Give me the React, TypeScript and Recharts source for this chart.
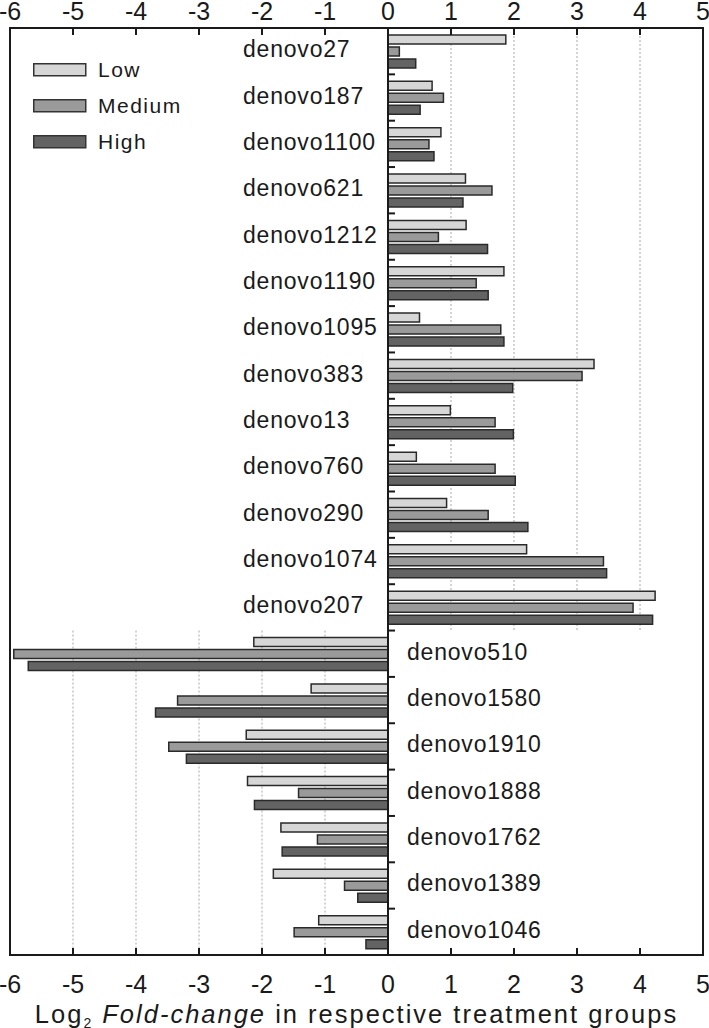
import React from 'react';
import { BarChart, Bar, XAxis, YAxis, ReferenceLine, ReferenceArea, Legend, Label, CartesianGrid } from 'recharts';

const CATEGORIES = [
  'denovo27', 'denovo187', 'denovo1100', 'denovo621', 'denovo1212', 'denovo1190', 'denovo1095',
  'denovo383', 'denovo13', 'denovo760', 'denovo290', 'denovo1074', 'denovo207',
  'denovo510', 'denovo1580', 'denovo1910', 'denovo1888', 'denovo1762', 'denovo1389', 'denovo1046',
];
const LOW = [1.87, 0.70, 0.84, 1.23, 1.24, 1.84, 0.50, 3.27, 0.99, 0.45, 0.93, 2.20, 4.24,
  -2.13, -1.22, -2.25, -2.23, -1.70, -1.82, -1.10];
const MEDIUM = [0.18, 0.88, 0.65, 1.65, 0.80, 1.40, 1.79, 3.08, 1.70, 1.70, 1.59, 3.42, 3.89,
  -5.94, -3.34, -3.48, -1.42, -1.12, -0.69, -1.49];
const HIGH = [0.44, 0.51, 0.73, 1.19, 1.58, 1.59, 1.84, 1.98, 1.99, 2.02, 2.22, 3.47, 4.20,
  -5.71, -3.69, -3.20, -2.12, -1.68, -0.48, -0.35];
const SERIES = ['Low', 'Medium', 'High'];
const COLORS = ['#d6d6d6', '#9a9a9a', '#636363'];
const X_TICKS = [-6, -5, -4, -3, -2, -1, 0, 1, 2, 3, 4, 5];
const UP_GRID = [1, 2, 3, 4];
const DOWN_GRID = [-1, -2, -3, -4, -5];

const data = CATEGORIES.map((name, i) => ({ name, Low: LOW[i], Medium: MEDIUM[i], High: HIGH[i] }));
const N_UP = CATEGORIES.filter((_, i) => LOW[i] > 0 && MEDIUM[i] > 0 && HIGH[i] > 0).length;
const N_ALL = CATEGORIES.length;

const W = 709;
const H = 1028;
const M_LEFT = 9;
const Y_AXIS_W = 1;
const M_RIGHT = 6;
const TOP_AXIS_H = 28;
const BOTTOM_AXIS_H = 73;
const PLOT_LEFT = M_LEFT + Y_AXIS_W;
const PLOT_TOP = TOP_AXIS_H;
const PLOT_W = W - PLOT_LEFT - M_RIGHT;
const PLOT_H = H - TOP_AXIS_H - BOTTOM_AXIS_H;
const BAND = PLOT_H / N_ALL;
const X_MIN = -6;
const X_MAX = 5;
const toPx = (v: number) => PLOT_LEFT + ((v - X_MIN) / (X_MAX - X_MIN)) * PLOT_W;
const ZERO_X = toPx(0);
const UNIT = PLOT_W / (X_MAX - X_MIN);

const FONT = '"Liberation Sans", Arial, Helvetica, sans-serif';
const INK = '#1a1a1a';

const CatTick = (props: any) => {
  const { y, payload } = props;
  const idx = CATEGORIES.indexOf(payload.value);
  const up = idx < N_UP;
  const x = up ? ZERO_X - 145 : ZERO_X + 19;
  return (
    <text x={x} y={y + 6} textAnchor="start" fontSize={23} letterSpacing={0.8} fontFamily={FONT} fill={INK}>
      {payload.value}
    </text>
  );
};

// vertical dotted grid: positive values only beside the up-regulated block, negative beside the down block
const VGridLine = (props: any) => {
  const { x1, y1, y2 } = props;
  const v = Math.round(X_MIN + ((x1 - PLOT_LEFT) / UNIT));
  const split = y1 + ((y2 - y1) * N_UP) / N_ALL;
  let a: number | null = null;
  let b: number | null = null;
  if (UP_GRID.includes(v)) { a = y1; b = split; }
  else if (DOWN_GRID.includes(v)) { a = split; b = y2; }
  if (a === null || b === null) return <g />;
  return <line x1={x1} x2={x1} y1={a} y2={b} stroke="#a8a8a8" strokeWidth={1} strokeDasharray="2 2" />;
};

// short ticks on the zero axis at the boundaries between categories
const HGridLine = (props: any) => {
  const { y1, index } = props;
  if (index >= N_ALL - 1) return <g />;
  const yb = y1 + BAND / 2;
  return <line x1={ZERO_X} x2={ZERO_X + 7} y1={yb} y2={yb} stroke={INK} strokeWidth={2} />;
};

const LegendContent = (props: any) => {
  const raw = props.payload && props.payload.length ? props.payload : SERIES.map((s, i) => ({ value: s, color: COLORS[i] }));
  const items = [...raw].sort((a: any, b: any) => SERIES.indexOf(a.value) - SERIES.indexOf(b.value));
  return (
    <div>
      {items.map((it: any) => (
        <div key={it.value} style={{ display: 'flex', alignItems: 'center', height: 36 }}>
          <svg width={54} height={14} style={{ display: 'block' }}>
            <rect x={0.75} y={0.75} width={52} height={12} fill={COLORS[SERIES.indexOf(it.value)] || it.color} stroke="#333" strokeWidth={1.5} />
          </svg>
          <span style={{ marginLeft: 11, fontFamily: FONT, fontSize: 21, letterSpacing: 1.5, color: INK, lineHeight: '36px' }}>
            {it.value}
          </span>
        </div>
      ))}
    </div>
  );
};

const AxisTitle = (props: any) => {
  const vb = props.viewBox || { x: PLOT_LEFT, y: PLOT_TOP + PLOT_H, width: PLOT_W, height: BOTTOM_AXIS_H };
  const cx = vb.x + vb.width / 2;
  return (
    <text x={cx} y={vb.y + 68} textAnchor="middle" fontSize={25.5} letterSpacing={2} fontFamily={FONT} fill={INK}>
      <tspan>Log</tspan>
      <tspan fontSize={14} dy={5}>2</tspan>
      <tspan dy={-5}> </tspan>
      <tspan fontStyle="italic">Fold-change</tspan>
      <tspan> in respective treatment groups</tspan>
    </text>
  );
};

export default function App() {
  return (
    <div style={{ position: 'absolute', left: 0, top: 0, width: W, height: H, background: '#fff' }}>
      <BarChart
        width={W}
        height={H}
        data={data}
        layout="vertical"
        margin={{ top: 0, right: M_RIGHT, bottom: 0, left: M_LEFT }}
        barSize={9}
        barGap={3}
      >
        <CartesianGrid vertical={<VGridLine />} horizontal={<HGridLine />} stroke="#a8a8a8" />
        <XAxis
          type="number"
          domain={[X_MIN, X_MAX]}
          ticks={X_TICKS}
          interval={0}
          allowDataOverflow
          height={BOTTOM_AXIS_H}
          axisLine={false}
          tickSize={-7}
          tickMargin={27}
          tickLine={{ stroke: INK, strokeWidth: 2 }}
          tick={{ fontSize: 25, fill: INK, fontFamily: FONT }}
        >
          <Label content={<AxisTitle />} />
        </XAxis>
        <XAxis
          xAxisId="top"
          orientation="top"
          type="number"
          domain={[X_MIN, X_MAX]}
          ticks={X_TICKS}
          interval={0}
          allowDataOverflow
          height={TOP_AXIS_H}
          axisLine={false}
          tickSize={-7}
          tickMargin={15.5}
          tickLine={{ stroke: INK, strokeWidth: 2 }}
          tick={{ fontSize: 25, fill: INK, fontFamily: FONT }}
        />
        <YAxis
          type="category"
          dataKey="name"
          width={Y_AXIS_W}
          interval={0}
          axisLine={false}
          tickLine={false}
          tick={<CatTick />}
        />

        {SERIES.map((s, i) => (
          <Bar key={s} dataKey={s} name={s} fill={COLORS[i]} stroke="#2a2a2a" strokeWidth={1.5} isAnimationActive={false} />
        ))}

        <ReferenceLine x={0} stroke={INK} strokeWidth={2} />
        <ReferenceArea x1={X_MIN} x2={X_MAX} fill="none" fillOpacity={0} stroke={INK} strokeWidth={2} ifOverflow="visible" />

        <Legend
          layout="vertical"
          align="center"
          verticalAlign="middle"
          content={<LegendContent />}
          wrapperStyle={{ left: 33, top: 52, width: 'auto', height: 'auto' }}
        />
      </BarChart>
    </div>
  );
}
